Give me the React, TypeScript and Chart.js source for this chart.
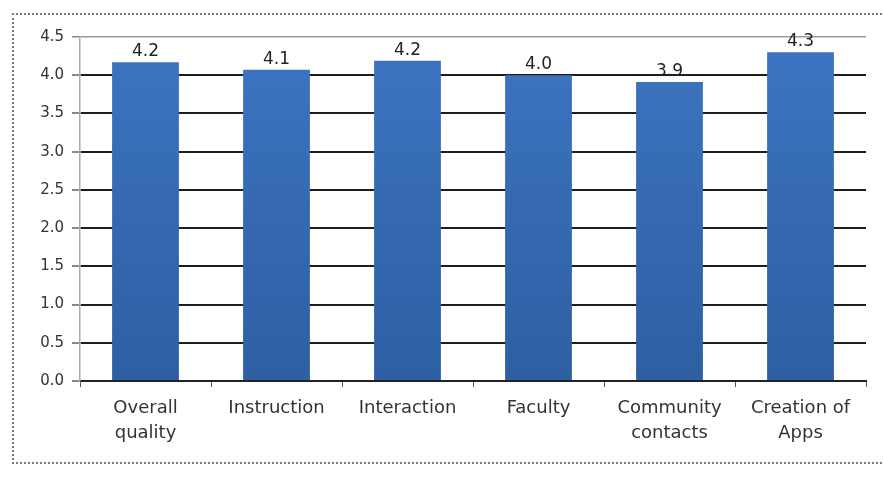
import React, { useEffect, useRef } from "react";
import { Chart, registerables } from "chart.js";

Chart.register(...registerables);

const categories: (string | string[])[] = [
  ["Overall", "quality"],
  "Instruction",
  "Interaction",
  "Faculty",
  ["Community", "contacts"],
  ["Creation of", "Apps"],
];
const values = [4.17, 4.07, 4.19, 4.0, 3.91, 4.3];
const valueLabels = ["4.2", "4.1", "4.2", "4.0", "3.9", "4.3"];
const yMin = 0;
const yMax = 4.5;
const yStep = 0.5;

const FONT = "'DejaVu Sans', sans-serif";

const dataLabelPlugin = {
  id: "dataLabels",
  afterDatasetsDraw(chart: any) {
    const ctx = chart.ctx;
    const meta = chart.getDatasetMeta(0);
    ctx.save();
    ctx.font = `17px ${FONT}`;
    ctx.fillStyle = "#222";
    ctx.textAlign = "center";
    ctx.textBaseline = "bottom";
    meta.data.forEach((bar: any, i: number) => {
      ctx.fillText(valueLabels[i], bar.x, bar.y - 2);
    });
    ctx.restore();
  },
};

export default function App() {
  const ref = useRef<HTMLCanvasElement>(null);
  useEffect(() => {
    document.body.style.margin = "0";
    const canvas = ref.current!;
    const chart = new Chart(canvas, {
      type: "bar",
      data: {
        labels: categories,
        datasets: [
          {
            data: values,
            backgroundColor: (c: any) => {
              const area = c.chart.chartArea;
              if (!area) return "#3a70bd";
              const g = c.chart.ctx.createLinearGradient(0, area.top, 0, area.bottom);
              g.addColorStop(0, "#3d74c2");
              g.addColorStop(1, "#2d5fa2");
              return g;
            },
            barPercentage: 0.51,
            categoryPercentage: 1,
          },
        ],
      },
      options: {
        animation: false,
        responsive: false,
        maintainAspectRatio: false,
        layout: { padding: { left: 0, right: 17, top: 37, bottom: 0 } },
        plugins: { legend: { display: false }, tooltip: { enabled: false } },
        scales: {
          x: {
            grid: {
              offset: true,
              drawOnChartArea: false,
              drawTicks: true,
              tickLength: 6,
              color: "#555",
            },
            border: { color: "#222", width: 2 },
            ticks: {
              color: "#333",
              font: { family: FONT, size: 18, lineHeight: 1.4 },
              padding: 9,
              maxRotation: 0,
              autoSkip: false,
            },
            afterFit: (s: any) => {
              s.height = 96;
            },
          },
          y: {
            min: yMin,
            max: yMax,
            ticks: {
              stepSize: yStep,
              color: "#333",
              font: { family: FONT, size: 15 },
              padding: 8,
              callback: (v: any) => Number(v).toFixed(1),
            },
            grid: {
              color: (c: any) => (c.tick && c.tick.value === yMax ? "#9a9a9a" : "#1e1e1e"),
              lineWidth: (c: any) => (c.tick && c.tick.value === yMax ? 1.5 : 2),
              tickColor: "#888",
              tickLength: 8,
            },
            border: { color: "#aaa", width: 1.5 },
            afterFit: (s: any) => {
              s.width = 80;
            },
          },
        },
      },
      plugins: [dataLabelPlugin],
    });
    return () => chart.destroy();
  }, []);
  return (
    <div style={{ position: "relative", width: 883, height: 477, background: "#fff" }}>
      <canvas ref={ref} width={883} height={477} style={{ position: "absolute", left: 0, top: 0 }} />
      <div
        style={{
          position: "absolute",
          left: 12,
          top: 13,
          width: 890,
          height: 447,
          border: "2px dotted #7a7a7a",
          pointerEvents: "none",
        }}
      />
    </div>
  );
}
